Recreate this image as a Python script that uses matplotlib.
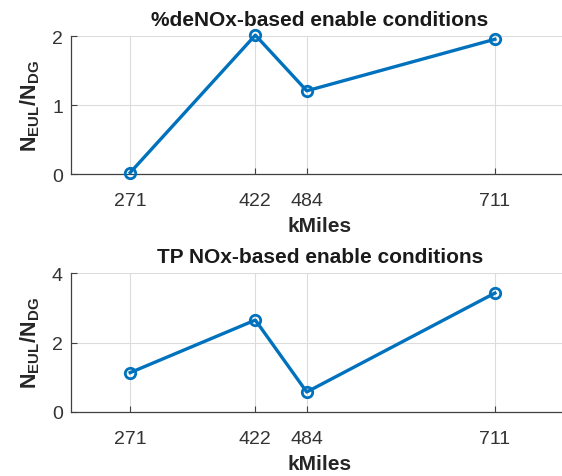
import matplotlib
matplotlib.use("Agg")
import matplotlib.pyplot as plt

plt.rcParams['font.family'] = ['Liberation Sans', 'DejaVu Sans']
plt.rcParams['mathtext.fontset'] = 'custom'
plt.rcParams['mathtext.rm'] = 'Liberation Sans'
plt.rcParams['mathtext.bf'] = 'Liberation Sans:bold'

kmiles = [271, 422, 484, 711]
xtick_labels = ['271', '422', '484', '711']
denox_ratio = [0.02, 2.02, 1.21, 1.96]
tpnox_ratio = [1.13, 2.65, 0.57, 3.43]

titles = ['%deNOx-based enable conditions', 'TP NOx-based enable conditions']
series = [denox_ratio, tpnox_ratio]
yticks = [[0, 1, 2], [0, 2, 4]]
ylims = [(0, 2), (0, 4)]

blue = '#0072BD'
fig = plt.figure(figsize=(5.62, 4.77), dpi=100)
rects = [[0.1269, 0.6331, 0.885, 0.2883], [0.1269, 0.1348, 0.885, 0.2900]]

for rect, title, vals, yt, yl in zip(rects, titles, series, yticks, ylims):
    ax = fig.add_axes(rect)
    ax.plot(kmiles, vals, color=blue, lw=2.4, marker='o', ms=7.5,
            mfc='none', mec=blue, mew=2.0, clip_on=False, zorder=3)
    ax.set_xlim(200, 800)
    ax.set_ylim(*yl)
    ax.set_xticks(kmiles)
    ax.set_xticklabels(xtick_labels)
    ax.set_yticks(yt)
    ax.grid(True, color='#dcdcdc', lw=0.8)
    ax.set_axisbelow(True)
    for s in ['top', 'right']:
        ax.spines[s].set_visible(False)
    for s in ['left', 'bottom']:
        ax.spines[s].set_color('#404040')
        ax.spines[s].set_linewidth(0.9)
    ax.tick_params(direction='in', length=4, width=0.8, colors='#404040',
                   labelcolor='#333333', labelsize=14)
    ax.tick_params(axis='x', pad=13)
    ax.tick_params(axis='y', pad=6)
    ax.set_title(title, fontsize=15, fontweight='bold', color='#1a1a1a', pad=8)
    ax.set_xlabel('kMiles', fontsize=15, fontweight='bold', color='#262626', labelpad=5)
    ax.set_ylabel(r'$\mathbf{N_{EUL}/N_{DG}}$', fontsize=15.5, color='#262626', labelpad=7)

fig.savefig('out.png', dpi=100)
